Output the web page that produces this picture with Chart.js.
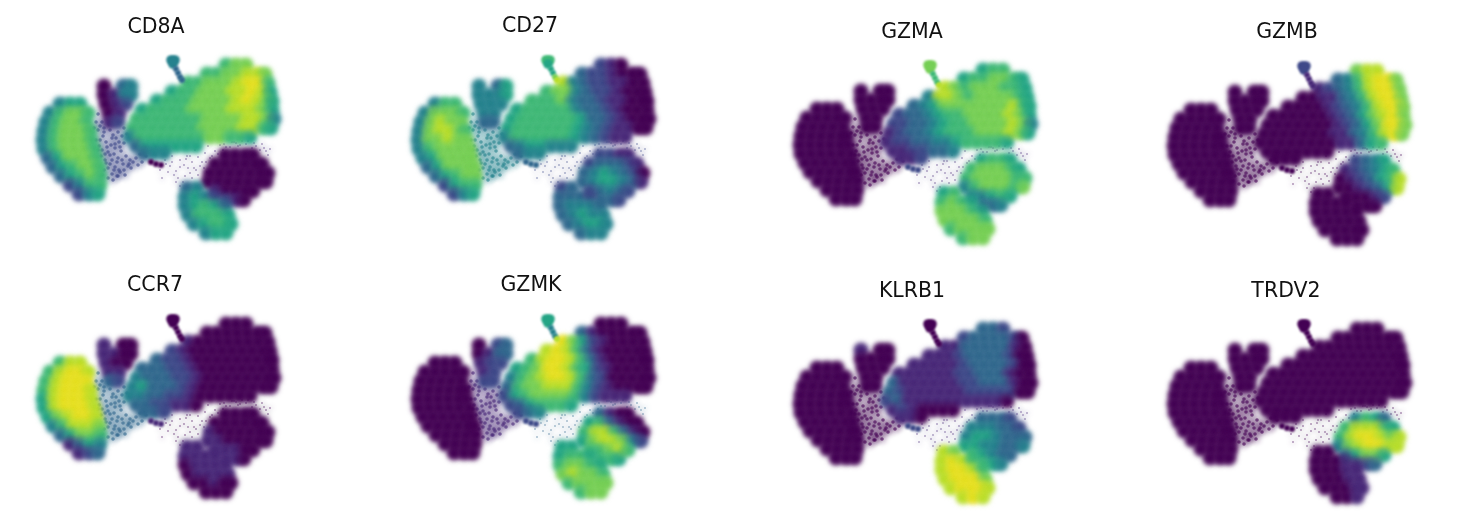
<!DOCTYPE html>
<html>
<head>
<meta charset="utf-8">
<title>UMAP marker genes</title>
<script src="https://cdn.jsdelivr.net/npm/chart.js@4"></script>
<style>
  html, body { margin: 0; width: 1467px; height: 522px; overflow: hidden; background: #fff; }
  canvas { position: absolute; }
</style>
</head>
<body>
<script>
const genes = ['CD8A', 'CD27', 'GZMA', 'GZMB', 'CCR7', 'GZMK', 'KLRB1', 'TRDV2'];

// shared embedding. one line = one row of cells
const cellX = [
  40,50,60,
  30,40,50,60,68,
  26,36,46,56,66,
  24,34,44,54,64,70,
  23,33,43,53,63,71,
  24,34,44,54,64,74,
  28,38,48,58,68,76,
  33,43,53,63,73,79,
  41,51,61,71,80,
  50,60,70,80,
  59,69,78,
  84,103,111,
  84,94,104,111,
  86,96,106,
  89,99,
  90,98,
  206,216,226,
  187,197,207,217,227,237,245,
  168,178,188,198,208,218,228,238,248,
  152,162,172,182,192,202,212,222,232,242,250,
  137,147,157,167,177,187,197,207,217,227,237,247,252,
  122,132,142,152,162,172,182,192,202,212,222,232,242,252,
  117,127,137,147,157,167,177,187,197,207,217,227,237,247,254,
  113,123,133,143,153,163,173,183,193,203,213,223,233,243,251,
  110,120,130,140,150,160,170,180,190,200,210,220,230,
  116,126,136,146,156,166,176,
  124,134,144,
  205,215,225,233,
  195,205,215,225,235,242,
  190,200,210,220,230,240,248,
  188,198,208,218,228,238,246,
  195,205,215,225,233,
  206,216,224,
  167,177,
  165,175,185,195,
  165,175,185,195,205,
  168,178,188,198,208,
  174,184,194,204,211,
  186,196,206
];
const cellY = [
  94,94,94,
  103,103,103,103,103,
  112,112,112,112,112,
  121,121,121,121,121,121,
  130,130,130,130,130,130,
  139,139,139,139,139,139,
  148,148,148,148,148,148,
  157,157,157,157,157,157,
  166,166,166,166,166,
  175,175,175,175,
  184,184,184,
  76,76,76,
  85,85,85,85,
  94,94,94,
  103,103,
  112,112,
  55,55,55,
  64,64,64,64,64,64,64,
  73,73,73,73,73,73,73,73,73,
  82,82,82,82,82,82,82,82,82,82,82,
  91,91,91,91,91,91,91,91,91,91,91,91,91,
  100,100,100,100,100,100,100,100,100,100,100,100,100,100,
  109,109,109,109,109,109,109,109,109,109,109,109,109,109,109,
  118,118,118,118,118,118,118,118,118,118,118,118,118,118,118,
  127,127,127,127,127,127,127,127,127,127,127,127,127,
  136,136,136,136,136,136,136,
  143,143,143,
  145,145,145,145,
  154,154,154,154,154,154,
  163,163,163,163,163,163,163,
  172,172,172,172,172,172,172,
  181,181,181,181,181,
  190,190,190,
  178,178,
  187,187,187,187,
  196,196,196,196,196,
  205,205,205,205,205,
  214,214,214,214,214,
  223,223,223
];

// expression level 0-9 per cell, same row layout as cellX
const cd8a = [
  4,5,5, 4,6,7,7,6, 4,6,7,7,6, 4,6,7,7,7,6, 4,6,7,7,7,6, 4,6,7,7,7,6, 3,5,7,7,7,6, 3,5,6,7,7,6, 3,5,6,7,6, 2,4,6,6, 2,4,5,
  0,3,4, 0,1,4,4, 0,1,2, 0,1, 1,2,
  6,7,7,
  6,6,7,7,8,8,7,
  6,6,7,7,7,8,9,9,6,
  5,6,6,7,7,7,8,8,9,8,5,
  5,6,6,6,7,7,7,7,8,9,8,7,5,
  5,6,6,6,6,7,7,7,7,8,8,8,7,5,
  6,6,6,6,6,6,6,7,7,7,7,8,8,7,4,
  6,6,6,6,6,6,6,7,7,7,7,8,8,6,5,
  4,6,6,6,6,6,6,6,7,7,6,6,5,
  3,5,5,5,5,5,5,
  3,4,4,
  0,0,0,0, 0,0,0,0,0,0, 0,0,0,0,0,0,0, 0,0,0,0,0,0,0, 1,0,0,0,0, 2,1,0,
  3,4, 4,5,4,2, 4,5,6,5,3, 4,6,6,6,5, 4,5,6,6,5, 4,5,5
];
const cd27 = [
  4,6,6, 4,7,7,7,6, 4,7,8,7,7, 4,7,8,8,7,6, 4,7,7,8,7,7, 4,6,7,7,7,7, 4,5,7,7,7,7, 3,5,7,7,7,7, 3,5,6,7,7, 2,5,6,6, 2,4,5,
  4,3,5, 4,4,4,5, 4,4,4, 4,4, 3,3,
  2,1,0,
  3,2,2,1,0,0,0,
  8,4,3,2,2,1,1,0,0,
  6,7,7,4,3,2,2,1,0,0,0,
  6,6,6,7,4,3,3,2,1,1,0,0,0,
  5,6,6,6,6,6,4,3,3,2,1,0,0,0,
  5,6,6,6,6,6,6,5,3,3,2,1,0,0,0,
  5,6,6,6,6,6,6,5,4,3,2,1,1,0,0,
  4,6,6,6,6,6,6,5,4,3,2,1,1,
  3,4,5,5,4,4,4,
  3,4,4,
  2,2,1,1, 2,3,3,3,2,1, 3,4,5,4,3,2,0, 3,4,5,5,4,3,1, 2,3,4,3,2, 3,3,2,
  2,3, 3,3,3,2, 3,4,4,4,3, 3,4,5,4,4, 3,4,5,5,4, 3,4,4
];
const gzma = [
  0,0,0, 0,0,0,0,0, 0,0,0,0,0, 0,0,0,0,0,0, 0,0,0,0,0,0, 0,0,0,0,0,0, 0,0,0,0,0,0, 0,0,0,0,0,0, 0,0,0,0,0, 0,0,0,0, 0,0,0,
  0,0,0, 0,0,0,0, 0,0,0, 0,0, 0,0,
  5,6,6,
  5,6,6,7,7,6,5,
  8,7,6,7,7,7,6,6,5,
  4,8,8,7,6,7,7,7,7,6,5,
  3,4,5,7,7,7,7,7,7,7,8,6,5,
  2,3,3,4,5,6,6,7,7,7,7,8,7,5,
  2,2,3,3,4,5,6,6,7,7,7,7,8,7,4,
  1,2,3,3,4,5,6,6,6,7,7,7,8,7,5,
  1,2,2,3,3,4,4,5,6,6,6,6,5,
  1,1,2,2,3,3,4,
  1,1,2,
  5,6,6,5, 6,7,7,7,6,5, 6,7,7,7,7,6,6, 4,6,7,7,7,6,7, 4,4,5,6,5, 3,3,4,
  5,6, 6,7,6,5, 7,7,7,6,5, 7,7,7,7,6, 6,7,7,7,7, 6,7,7
];
const gzmb = [
  0,0,0, 0,0,0,0,0, 0,0,0,0,0, 0,0,0,0,0,0, 0,0,0,0,0,0, 0,0,0,0,0,0, 0,0,0,0,0,0, 0,0,0,0,0,0, 0,0,0,0,0, 0,0,0,0, 0,0,0,
  0,0,0, 0,0,0,0, 0,0,0, 0,0, 0,0,
  7,8,8,
  3,4,6,8,9,9,7,
  1,2,3,4,6,8,9,9,7,
  0,0,1,1,3,4,6,8,9,9,7,
  0,0,0,0,1,2,3,4,6,8,9,9,7,
  0,0,0,0,0,0,1,2,3,5,7,8,9,7,
  0,0,0,0,0,0,0,1,2,3,5,7,9,9,7,
  0,0,0,0,0,0,0,1,1,3,4,6,8,9,7,
  0,0,0,0,0,0,0,0,1,1,3,5,6,
  0,0,0,0,0,0,0,
  0,0,0,
  2,3,4,5, 1,2,3,4,5,6, 0,1,2,3,5,6,8, 0,0,1,2,3,5,8, 0,0,0,1,2, 0,0,0,
  0,0, 0,0,0,0, 0,0,0,0,0, 0,0,0,0,0, 0,0,0,0,0, 0,0,0
];
const ccr7 = [
  6,8,8, 6,8,9,9,8, 6,8,9,9,9, 6,8,9,9,9,8, 5,8,9,9,9,8, 5,8,9,9,9,8, 5,7,8,9,9,8, 4,6,8,8,8,7, 3,5,7,7,6, 1,3,5,4, 1,2,3,
  1,0,0, 1,1,0,0, 1,0,0, 1,1, 3,2,
  0,0,0,
  0,0,0,0,0,0,0,
  1,0,0,0,0,0,0,0,0,
  2,1,0,0,0,0,0,0,0,0,0,
  3,2,2,1,0,0,0,0,0,0,0,0,0,
  3,3,3,2,2,1,0,0,0,0,0,0,0,0,
  4,3,3,3,2,2,1,0,0,0,0,0,0,0,0,
  4,5,3,3,3,2,1,0,0,0,0,0,0,0,0,
  4,4,3,3,2,2,1,0,0,0,0,0,0,
  3,3,2,2,1,1,0,
  3,3,2,
  0,0,0,0, 0,0,0,0,0,0, 1,0,0,0,0,0,0, 1,1,0,0,0,0,0, 1,1,1,0,0, 1,1,0,
  1,1, 1,1,1,1, 0,1,1,1,1, 0,1,1,1,1, 0,0,1,0,0, 0,0,0
];
const gzmk = [
  0,0,0, 0,0,0,0,0, 0,0,0,0,0, 0,0,0,0,0,0, 0,0,0,0,0,0, 0,0,0,0,0,0, 0,0,0,0,0,0, 0,0,0,0,0,0, 0,0,0,0,0, 0,0,0,0, 0,0,0,
  0,2,3, 0,1,3,3, 1,2,2, 1,2, 2,2,
  0,0,0,
  3,1,0,0,0,0,0,
  9,7,5,2,1,0,0,0,0,
  8,9,8,6,3,1,0,0,0,0,0,
  6,8,9,9,8,6,3,1,0,0,0,0,0,
  5,6,7,9,9,8,6,5,2,1,0,0,0,0,
  4,6,7,8,9,9,8,6,3,2,0,0,0,0,0,
  3,6,7,7,8,8,8,6,4,2,1,0,0,0,0,
  2,5,6,7,7,7,7,6,4,2,1,1,1,
  2,3,5,6,6,6,5,
  2,3,4,
  3,1,0,0, 5,6,3,1,0,0, 6,8,8,6,3,1,0, 5,7,8,8,7,4,2, 6,6,7,8,6, 6,6,5,
  5,5, 5,6,6,5, 6,7,7,6,5, 7,8,7,7,6, 6,7,7,7,7, 6,7,7
];
const klrb1 = [
  0,0,0, 0,0,0,0,0, 0,0,0,0,0, 0,0,0,0,0,0, 0,0,0,0,0,0, 0,0,0,0,0,0, 0,0,0,0,0,0, 0,0,0,0,0,0, 0,0,0,0,0, 0,0,0,0, 0,0,0,
  1,0,0, 0,0,0,0, 0,0,0, 0,0, 0,0,
  3,3,2,
  2,3,3,3,3,2,0,
  1,1,3,3,3,3,3,1,0,
  1,1,1,2,3,3,3,3,2,0,0,
  1,1,1,1,1,2,3,3,3,3,2,0,0,
  1,1,1,1,1,1,2,2,3,3,3,1,0,0,
  3,1,1,1,1,1,1,2,2,3,3,3,1,0,0,
  3,2,1,1,1,1,1,1,2,2,2,2,2,0,0,
  2,3,1,1,1,1,1,1,1,1,1,1,0,
  1,2,1,0,0,0,0,
  1,1,0,
  3,3,3,2, 4,4,4,3,3,2, 4,5,5,4,3,3,3, 5,5,4,4,3,3,4, 6,5,4,3,3, 6,5,4,
  8,7, 8,9,8,6, 8,9,9,8,6, 8,9,9,9,7, 8,9,9,9,8, 8,9,8
];
const trdv2 = [
  0,0,0, 0,0,0,0,0, 0,0,0,0,0, 0,0,0,0,0,0, 0,0,0,0,0,0, 0,0,0,0,0,0, 0,0,0,0,0,0, 0,0,0,0,0,0, 0,0,0,0,0, 0,0,0,0, 0,0,0,
  0,0,0, 0,0,0,0, 0,0,0, 0,0, 0,0,
  0,0,0,
  0,0,0,0,0,0,0,
  0,0,0,0,0,0,0,0,0,
  0,0,0,0,0,0,0,0,0,0,0,
  0,0,0,0,0,0,0,0,0,0,0,0,0,
  0,0,0,0,0,0,0,0,0,0,0,0,0,0,
  0,0,0,0,0,0,0,0,0,0,0,0,0,0,0,
  0,0,0,0,0,0,0,0,0,0,0,0,0,0,0,
  0,0,0,0,0,0,0,0,0,0,0,0,0,
  0,0,0,0,0,0,0,
  0,0,0,
  4,6,5,3, 6,8,8,8,6,5, 6,8,9,9,8,7,8, 4,7,8,9,9,8,8, 3,5,7,7,5, 1,2,3,
  0,0, 0,0,0,1, 0,0,0,1,1, 0,0,0,1,1, 0,0,0,1,1, 0,0,1
];

// the thin bits: spike head, its stalk, then the small spot under the body
const thinX = [151,155,153,156,158,160,162,131,136,141];
const thinY = [50,50,54,59,63,67,70,152,154,155];
const thinLevels = [
  [4,4,4,3,3,3,3,0,0,0],
  [6,6,5,5,5,7,8,3,3,3],
  [7,7,7,6,6,6,8,2,2,2],
  [2,2,2,1,1,1,1,0,0,0],
  [0,0,0,0,0,0,0,1,1,1],
  [5,5,5,4,4,4,8,2,2,2],
  [0,0,0,0,0,0,0,2,2,2],
  [0,0,0,0,0,0,0,0,0,0]
];

// sparse cells left of the body and in the gap above the lower clusters
const fuzzX = [78,82,78,84,90,98,104,80,86,92,99,82,88,95,101,85,92,98,106,88,95,103,110,116,100,92,84,76,108,122,
  80,84,89,93,96,102,107,79,83,87,91,95,100,104,81,85,90,94,97,102,86,90,94,99,104,109,113,120,126,97,
  88,93,98,105,111,118,82,76,74,78];
const fuzzY = [104,112,120,122,120,122,118,130,132,128,132,140,142,138,141,150,150,148,146,158,157,154,150,148,162,164,160,112,156,152,
  116,118,114,125,128,126,124,136,126,137,135,134,137,133,146,144,145,144,152,150,153,154,160,160,160,154,152,144,146,166,
  168,170,166,165,158,155,165,130,118,140];
const gapX = [145,152,160,167,172,178,185,190,168,176,160,150,195,203,210,218,226,234,242,200,212,240,248,154,165,140,175,182,188,222,232,172,163,156,
  148,156,164,170,180,187,193,198,206,214,220,228,236,244,250,146,158,170,178,184,166,174,152,142,160,186,192,204,216,246];
const gapY = [150,146,150,146,152,147,143,148,158,160,157,156,141,140,137,136,134,133,134,135,132,140,145,165,166,160,140,152,136,131,138,168,172,172,
  162,161,155,163,156,162,156,144,137,132,135,131,136,138,139,154,168,146,165,158,149,158,152,168,176,152,146,134,133,141];
const fuzzLevels = [2,4,0,0,3,1,0,0];
const gapLevels = [1,2,1,0,0,3,1,0];

// viridis, one colour per level
const viridis = ['#440154','#482878','#3e4989','#31688e','#26828e','#24a585','#3fb976','#76cf55','#b9de2b','#e6e01f'];

// page position of each panel's cell origin, and of its title
const originX = [20,395,777,1151,20,395,777,1151];
const originY = [10,10,15,16,269,269,274,274];
const titleX = [156,530,912,1287,155,531,912,1286];
const titleY = [28,27,33,33,286,286,292,292];

const geneLevels = [cd8a, cd27, gzma, gzmb, ccr7, gzmk, klrb1, trdv2];

function points(xs, ys) {
    return xs.map((x, i) => ({ x: x, y: ys[i] }));
}

// soften the big cells so they read as a dense cloud, dataset blur is per index
const softCells = {
    id: 'softCells',
    beforeDatasetDraw(chart, args) {
        const blur = chart.data.datasets[args.index].blur;
        if (blur) chart.ctx.filter = 'blur(' + blur + 'px)';
    },
    afterDatasetDraw(chart) {
        chart.ctx.filter = 'none';
    }
};

genes.forEach((gene, g) => {
    const width = 280, height = 250;
    const left = titleX[g] - width / 2;
    const top = titleY[g] - 20;

    const canvas = document.createElement('canvas');
    canvas.width = width;
    canvas.height = height;
    canvas.style.left = left + 'px';
    canvas.style.top = top + 'px';
    document.body.appendChild(canvas);

    const levels = geneLevels[g];

    // chart.js paints the last dataset first, so back to front reads bottom up here
    new Chart(canvas, {
        type: 'scatter',
        plugins: [softCells],
        data: {
            datasets: [
                { data: points(thinX, thinY), pointBorderWidth: 0, blur: 0.8,
                  pointRadius: ctx => (ctx.dataIndex < 3 ? 4.8 : 3),
                  backgroundColor: thinLevels[g].map(l => viridis[l]) },
                { data: points(cellX, cellY), pointRadius: 8, pointBorderWidth: 0, blur: 2.6,
                  backgroundColor: levels.map(l => viridis[l] + '90') },
                { data: points(cellX, cellY), pointRadius: 6, pointBorderWidth: 0, blur: 2,
                  backgroundColor: levels.map(l => viridis[l]) },
                { data: points(gapX, gapY), pointRadius: 0.8, pointBorderWidth: 0,
                  backgroundColor: viridis[gapLevels[g]] + 'b0' },
                { data: points(fuzzX, fuzzY), pointRadius: 1.8, pointBorderWidth: 0,
                  backgroundColor: viridis[fuzzLevels[g]] + 'a0' },
                // haze behind the sparse cells
                { data: points(fuzzX, fuzzY), pointRadius: 5, pointBorderWidth: 0, blur: 2,
                  backgroundColor: viridis[fuzzLevels[g]] + '38' },
                { data: points(gapX, gapY), pointRadius: 4, pointBorderWidth: 0, blur: 2,
                  backgroundColor: viridis[gapLevels[g]] + '0c' }
            ]
        },
        options: {
            responsive: false,
            animation: false,
            clip: false,
            layout: { padding: 0, autoPadding: false },
            plugins: {
                legend: { display: false },
                tooltip: { enabled: false },
                title: {
                    display: true,
                    text: gene,
                    color: '#111',
                    font: { family: 'DejaVu Sans', size: 20.5, weight: 'normal', lineHeight: 1.17 },
                    padding: { top: 8, bottom: 8 }
                }
            },
            scales: {
                x: { type: 'linear', display: false, min: left - originX[g], max: left - originX[g] + width },
                y: { type: 'linear', display: false, reverse: true, min: top + 40 - originY[g], max: top + height - originY[g] }
            }
        }
    });
});
</script>
</body>
</html>
